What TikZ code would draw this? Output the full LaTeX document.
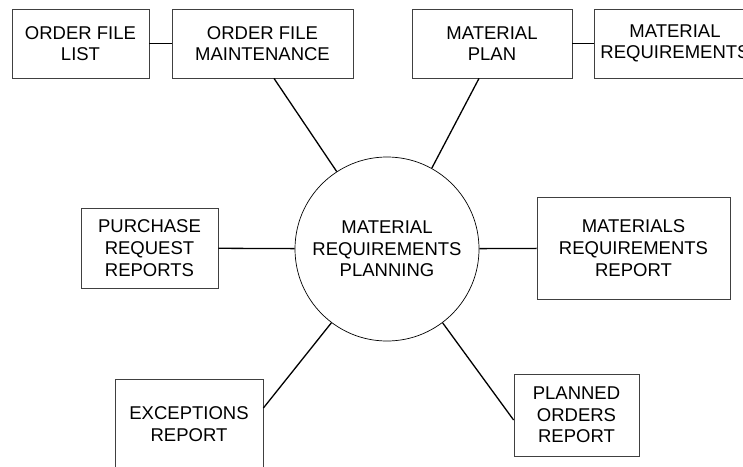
\documentclass[tikz,border=0pt]{standalone}
\usepackage{fontspec}
\setmainfont{Liberation Sans}
\usetikzlibrary{positioning}
\tikzset{
	box/.style={rectangle, draw=black!75, line width=.8pt, align=center, inner sep=0pt, font=\fontsize{18.5}{21.7}\selectfont},
	hub/.style={circle, draw=black, line width=.7pt, minimum size=184pt, inner sep=0pt, align=center, font=\fontsize{18.5}{21.7}\selectfont},
	link/.style={black, line width=1.3pt}
}

\begin{document}
\begin{tikzpicture}[x=1pt,y=-1pt]
\useasboundingbox (0,0) rectangle (743,466);
\clip (0,0) rectangle (743,466);
\node [hub] (mrp) at (387,249) {MATERIAL\\REQUIREMENTS\\PLANNING};
\node [box, minimum width=137pt, minimum height=69pt] (oflist) at (80.5,43.5) {ORDER FILE\\LIST};
\node [box, minimum width=181pt, minimum height=69pt] (maint) at (262.5,43.5) {ORDER FILE\\MAINTENANCE};
\node [box, minimum width=160pt, minimum height=69pt] (mplan) at (492,43.5) {MATERIAL\\PLAN};
\node [box, minimum width=162pt, minimum height=69pt] (mreq) at (675,43.5) {MATERIAL\\REQUIREMENTS};
\node [box, minimum width=137pt, minimum height=80pt] (purch) at (149.5,248) {PURCHASE\\REQUEST\\REPORTS};
\node [box, minimum width=193pt, minimum height=102pt] (mrrep) at (633.5,248) {MATERIALS\\REQUIREMENTS\\REPORT};
\node [box, minimum width=148pt, minimum height=90pt] (exc) at (189,424) {EXCEPTIONS\\REPORT};
\node [box, minimum width=125pt, minimum height=82pt] (planned) at (576.5,415) {PLANNED\\ORDERS\\REPORT};
% connectors
\draw [link] (oflist) -- (maint);
\draw [link] (mplan) -- (mreq);
\draw [link] (mrp.123) -- ([xshift=11.5pt]maint.south);
\draw [link] (mrp.61) -- ([xshift=-13pt]mplan.south);
\draw [link] (mrp) -- (purch);
\draw [link] (mrp) -- (mrrep);
\draw [link] (mrp.233) -- ([yshift=16pt]exc.east);
\draw [link] (mrp.307) -- ([yshift=-5pt]planned.west);
\end{tikzpicture}
\end{document}
